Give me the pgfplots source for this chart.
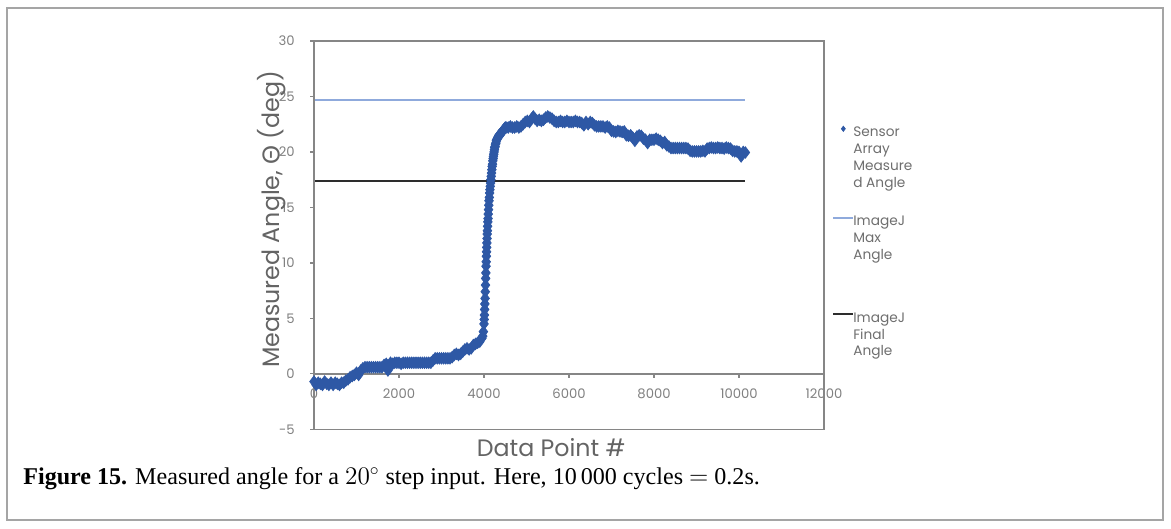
\documentclass[border=0pt]{standalone}
\usepackage{fontspec}
\setmainfont{Liberation Serif}
\newfontfamily\chartfont{Poppins}
\newfontfamily\greekfont{Lato}
\usepackage{pgfplots}
\pgfplotsset{compat=1.18}
\usepackage{pgfplotstable}

\definecolor{datablue}{RGB}{46,88,165}
\definecolor{maxblue}{RGB}{143,170,220}
\definecolor{finalgray}{RGB}{45,45,45}
\definecolor{axisgray}{RGB}{134,134,134}
\definecolor{ticklab}{RGB}{128,128,128}
\definecolor{labgray}{RGB}{100,100,100}
\definecolor{leggray}{RGB}{110,110,110}
\definecolor{framegray}{RGB}{165,165,165}

\pgfplotsset{
  shortline/.style={legend image code/.code={\draw[##1] (0cm,-0.11cm) -- (0.4cm,-0.11cm);}},
  markleg/.style={legend image code/.code={\draw[mark repeat=2,mark phase=2,##1,mark size=1.5pt] plot coordinates {(0cm,-0.11cm) (0.2cm,-0.11cm) (0.4cm,-0.11cm)};}},
}

\pgfplotstableread{
x y
0 -0.7
50 -1.0
100 -0.8
150 -0.9
200 -1.0
250 -0.7
300 -0.9
350 -1.0
400 -0.8
450 -1.0
500 -0.8
550 -0.9
600 -1.0
650 -0.8
700 -0.8
750 -0.6
800 -0.5
850 -0.3
900 -0.2
950 -0.1
1000 0.1
1050 -0.1
1100 0.3
1150 0.5
1200 0.6
1250 0.6
1300 0.6
1350 0.6
1400 0.6
1450 0.6
1500 0.6
1550 0.6
1600 0.6
1650 0.8
1700 0.9
1740 0.3
1760 0.7
1800 1.0
1850 0.9
1900 1.0
1950 1.0
2000 1.0
2050 0.9
2100 1.0
2150 1.0
2200 1.0
2250 1.0
2300 1.0
2350 1.0
2400 1.0
2450 1.0
2500 1.0
2550 1.0
2600 1.0
2650 1.0
2700 1.0
2750 1.0
2800 1.2
2850 1.4
2900 1.4
2950 1.4
3000 1.4
3050 1.4
3100 1.4
3150 1.4
3200 1.4
3250 1.5
3300 1.7
3350 1.8
3400 1.7
3450 1.8
3500 2.0
3550 2.2
3600 2.3
3650 2.2
3700 2.3
3750 2.6
3800 2.7
3850 2.8
3900 2.9
3950 3.2
3970 3.4
3985 3.8
4000 4.5
4005 4.9
4010 5.3
4015 5.8
4020 6.3
4025 6.8
4030 7.4
4035 8.0
4040 8.6
4044 9.1
4048 9.7
4052 10.1
4056 10.6
4060 11.0
4064 11.4
4068 11.8
4072 12.2
4076 12.6
4080 12.9
4085 13.3
4090 13.7
4095 14.0
4100 14.4
4106 14.8
4112 15.2
4118 15.6
4125 15.9
4132 16.3
4140 16.6
4147 16.9
4155 17.2
4162 17.5
4170 17.8
4177 18.1
4185 18.4
4192 18.7
4200 18.9
4207 19.2
4215 19.4
4222 19.6
4230 19.8
4237 20.0
4245 20.2
4252 20.4
4260 20.5
4270 20.7
4280 20.8
4290 21.0
4300 21.1
4312 21.2
4325 21.3
4337 21.4
4350 21.5
4365 21.5
4380 21.6
4395 21.7
4410 21.7
4425 21.8
4440 21.9
4460 22.0
4480 22.1
4500 22.2
4520 22.2
4570 22.2
4620 22.3
4670 22.2
4720 22.2
4770 22.3
4820 22.2
4870 22.3
4920 22.5
4970 22.7
5020 22.8
5070 22.7
5120 23.0
5160 23.2
5200 23.0
5250 22.8
5300 22.9
5350 22.8
5400 22.9
5450 23.1
5500 23.2
5550 23.1
5600 23.0
5650 22.8
5700 22.7
5750 22.7
5800 22.8
5850 22.7
5900 22.7
5950 22.8
6000 22.7
6050 22.7
6100 22.7
6150 22.8
6200 22.7
6250 22.7
6300 22.6
6350 22.4
6400 22.7
6450 22.5
6500 22.7
6550 22.6
6600 22.4
6650 22.3
6700 22.3
6750 22.3
6800 22.3
6850 22.2
6900 22.3
6950 22.2
7000 21.9
7050 21.85
7100 21.8
7150 21.9
7200 21.85
7250 21.8
7300 21.85
7350 21.5
7400 21.45
7450 21.5
7500 21.3
7550 21.0
7600 21.4
7650 21.5
7700 21.45
7750 21.2
7800 21.1
7850 20.8
7900 21.1
7950 21.1
8000 21.1
8050 21.2
8100 21.1
8150 21.0
8200 20.8
8250 20.9
8300 20.6
8350 20.5
8400 20.35
8450 20.35
8500 20.35
8550 20.35
8600 20.35
8650 20.35
8700 20.35
8750 20.35
8800 20.3
8850 20.1
8900 20.05
8950 20.05
9000 20.05
9050 20.05
9100 20.05
9150 20.1
9200 20.05
9250 20.3
9300 20.35
9350 20.4
9400 20.35
9450 20.35
9500 20.4
9550 20.35
9600 20.35
9650 20.3
9700 20.4
9750 20.35
9800 20.3
9850 20.1
9900 20.05
9950 20.05
10000 20.0
10050 19.6
10100 20.0
10150 19.95
}\sensordata

\begin{document}
\begin{tikzpicture}
\useasboundingbox (0,0) rectangle (23.42,10.56);
\draw[framegray, line width=0.8pt] (0.14,0.16) rectangle (23.26,10.40);
\node[anchor=base west, inner sep=0pt, font=\fontsize{13.7}{16}\selectfont] at (0.46,0.87) {\textbf{Figure 15.} Measured angle for a $20^\circ$ step input. Here, 10\,000 cycles $=$ 0.2s.};
\begin{axis}[
  at={(6.28cm,1.974cm)}, anchor=south west,
  scale only axis, width=10.2cm, height=7.766cm,
  xmin=0, xmax=12000, ymin=-5, ymax=30,
  axis x line=middle, axis y line=left,
  axis line style={-, axisgray, line width=0.8pt},
  hide obscured x ticks=false,
  xtick={0,2000,...,12000}, ytick={-5,0,...,30},
  scaled x ticks=false, scaled y ticks=false,
  tick align=outside, major tick length=0.08cm,
  tick style={axisgray, line width=0.7pt},
  minor tick num=0,
  /pgf/number format/assume math mode=true,
  /pgf/number format/1000 sep={},
  ticklabel style={font=\chartfont\fontsize{7.5}{9}\selectfont, text=ticklab},
  xticklabel style={anchor=north, inner sep=0pt, yshift=-0.22cm},
  yticklabel style={anchor=east, inner sep=0pt, xshift=-0.3cm},
  xlabel={Data Point \#},
  ylabel={Measured Angle, {\greekfont Θ} (deg)},
  xlabel style={at={(rel axis cs:0.465,-0.0706)}, anchor=base, inner sep=0pt, font=\chartfont\fontsize{13.5}{16}\selectfont, text=labgray},
  ylabel style={at={(rel axis cs:-0.0672,0.541)}, anchor=base, inner sep=0pt, font=\chartfont\fontsize{13.5}{16}\selectfont, text=labgray},
  clip=false,
  legend style={draw=none, fill=none, at={(rel axis cs:1.0157,0.789)}, anchor=north west,
    font=\chartfont\fontsize{7.8}{9.6}\selectfont, text=leggray,
    cells={align=left, anchor=north west, inner sep=0pt}, row sep=0.37cm, column sep=-0.09cm, inner sep=0pt},
  shortline,
]
\addplot[maxblue, line width=1.1pt, forget plot] coordinates {(0,24.65) (10150,24.65)};
\addplot[finalgray, line width=1.1pt, forget plot] coordinates {(0,17.4) (10150,17.4)};
\addplot[only marks, mark=diamond*, mark size=3.3pt, color=datablue, mark options={draw=datablue, fill=datablue}, markleg]
  table[x=x,y=y] {\sensordata};
\addlegendentry{Sensor\\Array\\Measure\\d Angle}
\addlegendimage{maxblue, line width=1.1pt}
\addlegendentry{ImageJ\\Max\\Angle\\[0.16cm]\mbox{}}
\addlegendimage{finalgray, line width=1.1pt}
\addlegendentry{ImageJ\\Final\\Angle}
\draw[axisgray, line width=0.8pt] (rel axis cs:0,0) rectangle (rel axis cs:1,1);
\end{axis}
\end{tikzpicture}
\end{document}
